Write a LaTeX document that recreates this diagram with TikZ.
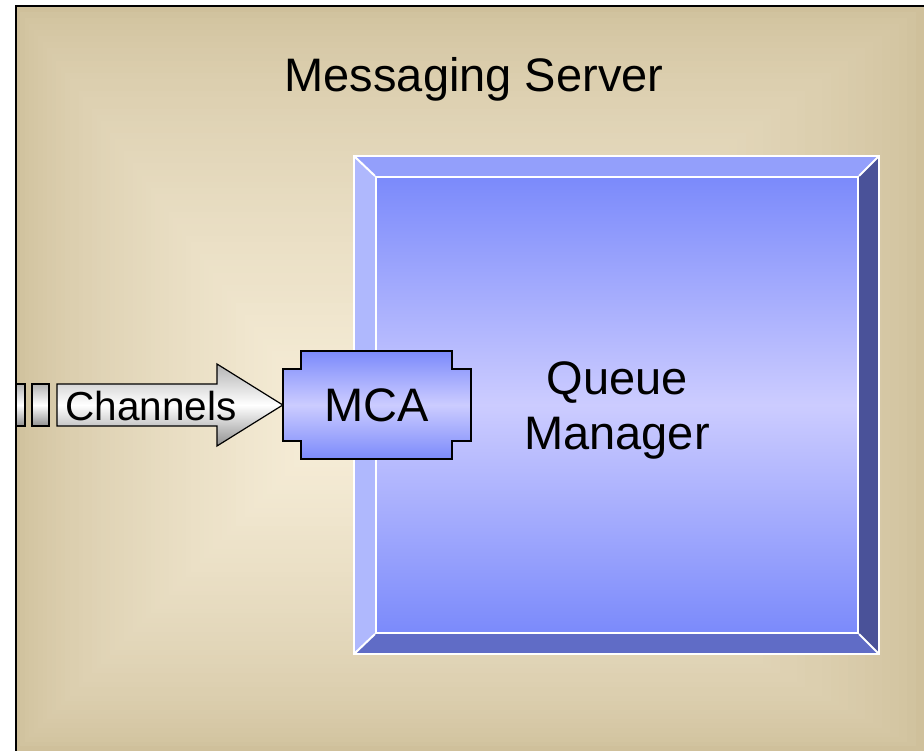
\documentclass[tikz,border=0pt]{standalone}
\usepackage{fontspec}
\setmainfont{Liberation Sans}
\definecolor{bgedge}{HTML}{CFC09B}
\definecolor{bgcore}{HTML}{F7EED9}
\definecolor{qmtop}{HTML}{939FFB}
\definecolor{qmleft}{HTML}{AFB8FD}
\definecolor{qmright}{HTML}{4A5299}
\definecolor{qmbottom}{HTML}{606CC6}
\definecolor{faceedge}{HTML}{7B8AFB}
\definecolor{facemid}{HTML}{CCCCFF}
\definecolor{steeltop}{HTML}{B4B4B4}
\definecolor{steelbot}{HTML}{909090}
\begin{document}
\begin{tikzpicture}[x=1pt,y=-1pt,
  bigtext/.style={font=\fontsize{47}{55}\selectfont, inner sep=0pt, text=black},
  chantext/.style={font=\fontsize{40.5}{48}\selectfont, inner sep=0pt, text=black},
  bevel/.style={draw=white, line width=2pt, line join=miter},
  face/.style={rectangle, inner sep=0pt, draw=white, line width=2pt,
    top color=faceedge, bottom color=faceedge, middle color=facemid},
  mcashape/.style={draw=black, line width=1.5pt,
    top color=faceedge, bottom color=faceedge, middle color=facemid},
  steel/.style={draw=black, line width=1.2pt, line join=miter,
    top color=steeltop, bottom color=steelbot, middle color=white}]
\useasboundingbox (0,0) rectangle (924,751);

% server background: rectangular gradient built from nested rectangles
\foreach \i in {0,...,69}{
  \pgfmathsetmacro\t{\i/70}
  \pgfmathtruncatemacro\pct{100*(\i/69)^0.65}
  \fill[bgcore!\pct!bgedge] ({16+\t*(330-16)},{6+\t*(430-6)})
    rectangle ({924-\t*(924-330)},{751-\t*(751-430)});
}
\draw[black, line width=2.5pt] (16,751) -- (16,6) -- (924,6);
\node[bigtext, anchor=base] (server) at (474,92) {Messaging Server};

% queue manager: bevelled block
\fill[qmtop] (354,156) -- (879,156) -- (858,177) -- (376,177) -- cycle;
\fill[qmleft] (354,156) -- (376,177) -- (376,633) -- (354,654) -- cycle;
\fill[qmright] (879,156) -- (879,654) -- (858,633) -- (858,177) -- cycle;
\fill[qmbottom] (354,654) -- (879,654) -- (858,633) -- (376,633) -- cycle;
\node[face, minimum width=482pt, minimum height=456pt] (qm) at (617,405) {};
\draw[bevel] (354,156) rectangle (879,654);
\draw[bevel] (354,156) -- (qm.north west) (879,156) -- (qm.north east)
  (879,654) -- (qm.south east) (354,654) -- (qm.south west);
\node[bigtext, align=center] (qmlabel) at (617,410) {Queue\\Manager};

% MCA
\path[mcashape] (301,351) -- (452,351) -- (452,369) -- (471,369) -- (471,441)
  -- (452,441) -- (452,459) -- (301,459) -- (301,441) -- (283,441)
  -- (283,369) -- (301,369) -- cycle;
\node[bigtext, minimum width=188pt, minimum height=72pt] (mca) at (377,405) {MCA};

% channels arrow
\path[steel] (16,384) rectangle (25,426);
\path[steel] (32,384) rectangle (49,426);
\path[steel] (57,384) -- (217,384) -- (217,364) -- (mca.west) -- (217,446)
  -- (217,426) -- (57,426) -- cycle;
\node[chantext, anchor=base] (chan) at (151,420) {Channels};
\end{tikzpicture}
\end{document}
